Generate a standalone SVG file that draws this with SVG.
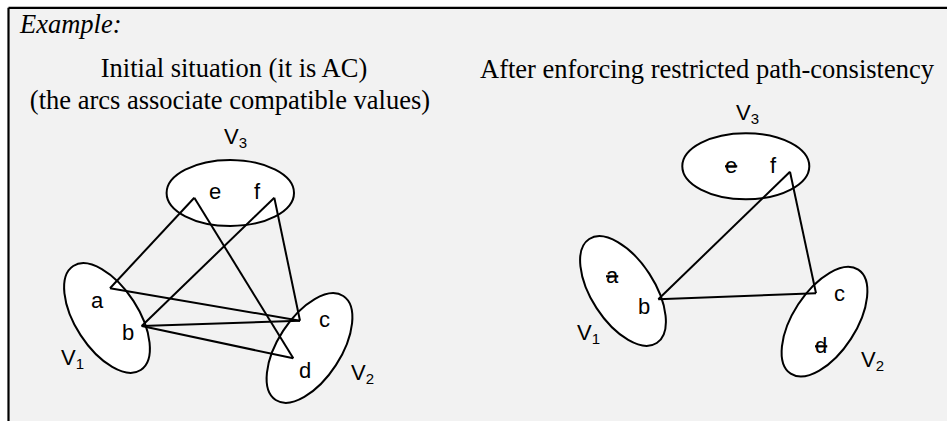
<svg xmlns="http://www.w3.org/2000/svg" width="947" height="421" viewBox="0 0 947 421">
<style>
.title{font-family:"Liberation Serif","Times New Roman",serif;font-size:26.5px;fill:#000}
.lbl{font-family:"Liberation Sans",Arial,sans-serif;font-size:22px;fill:#000}
.sub{font-size:15px}
.set{fill:#fff;stroke:#000;stroke-width:2}
.arc{stroke:#000;stroke-width:2;fill:none;stroke-linejoin:miter}
.struck{text-decoration:line-through}
</style>
<rect x="0" y="0" width="947" height="421" fill="#fff"/>
<rect x="8.5" y="7.8" width="940" height="415" fill="#f2f2f2"/>
<g id="frame" stroke="#000" stroke-width="2.2" fill="none">
<line x1="8.5" y1="7.8" x2="947" y2="7.8"/>
<line x1="8.5" y1="7.8" x2="8.5" y2="421"/>
</g>
<text class="title" x="20" y="33" font-style="italic">Example:</text>
<text class="title" x="234" y="77" text-anchor="middle">Initial situation (it is AC)</text>
<text class="title" x="230" y="109" text-anchor="middle">(the arcs associate compatible values)</text>
<text class="title" x="480" y="78">After enforcing restricted path-consistency</text>

<g id="left-V3">
<ellipse class="set" cx="230.3" cy="193" rx="63.7" ry="33"/>
<text class="lbl" x="224" y="144">V<tspan class="sub" dy="4">3</tspan></text>
<text class="lbl" x="209" y="199">e</text>
<text class="lbl" x="254" y="199">f</text>
</g>
<g id="left-V1">
<ellipse class="set" cx="0" cy="0" rx="62" ry="31.5" transform="translate(107 318) rotate(57)"/>
<text class="lbl" x="91" y="308">a</text>
<text class="lbl" x="122" y="340">b</text>
<text class="lbl" x="61" y="365">V<tspan class="sub" dy="4">1</tspan></text>
</g>
<g id="left-V2">
<ellipse class="set" cx="0" cy="0" rx="62" ry="31.5" transform="translate(309.5 348) rotate(-57)"/>
<text class="lbl" x="319" y="327">c</text>
<text class="lbl" x="299" y="378">d</text>
<text class="lbl" x="351" y="380">V<tspan class="sub" dy="4">2</tspan></text>
</g>

<g id="right-V3">
<ellipse class="set" cx="745.8" cy="166.3" rx="63.5" ry="33"/>
<text class="lbl" x="736" y="120">V<tspan class="sub" dy="4">3</tspan></text>
<text class="lbl struck" x="725" y="173">e</text>
<text class="lbl" x="770" y="173">f</text>
</g>
<g id="right-V1">
<ellipse class="set" cx="0" cy="0" rx="62" ry="31.5" transform="translate(623 291) rotate(57)"/>
<text class="lbl struck" x="606" y="283">a</text>
<text class="lbl" x="638" y="314">b</text>
<text class="lbl" x="577" y="340">V<tspan class="sub" dy="4">1</tspan></text>
</g>
<g id="right-V2">
<ellipse class="set" cx="0" cy="0" rx="62" ry="31.5" transform="translate(824.5 321.7) rotate(-57)"/>
<text class="lbl" x="834" y="301">c</text>
<text class="lbl struck" x="815" y="353">d</text>
<text class="lbl" x="861" y="367">V<tspan class="sub" dy="4">2</tspan></text>
</g>

<g id="connectors">
<line class="arc" x1="194.3" y1="197.7" x2="110" y2="288.3"/>
<line class="arc" x1="194.3" y1="197.7" x2="293.3" y2="358.3"/>
<line class="arc" x1="274.3" y1="197.7" x2="141.7" y2="326"/>
<line class="arc" x1="274.3" y1="197.7" x2="300" y2="320.7"/>
<line class="arc" x1="110" y1="288.3" x2="300" y2="320.7"/>
<line class="arc" x1="141.7" y1="326" x2="300" y2="320.7"/>
<line class="arc" x1="141.7" y1="326" x2="293.3" y2="358.3"/>
<line class="arc" x1="790" y1="171.7" x2="658.3" y2="299.3"/>
<line class="arc" x1="790" y1="171.7" x2="816" y2="293.3"/>
<line class="arc" x1="658.3" y1="299.3" x2="816" y2="293.3"/>
</g>
</svg>
